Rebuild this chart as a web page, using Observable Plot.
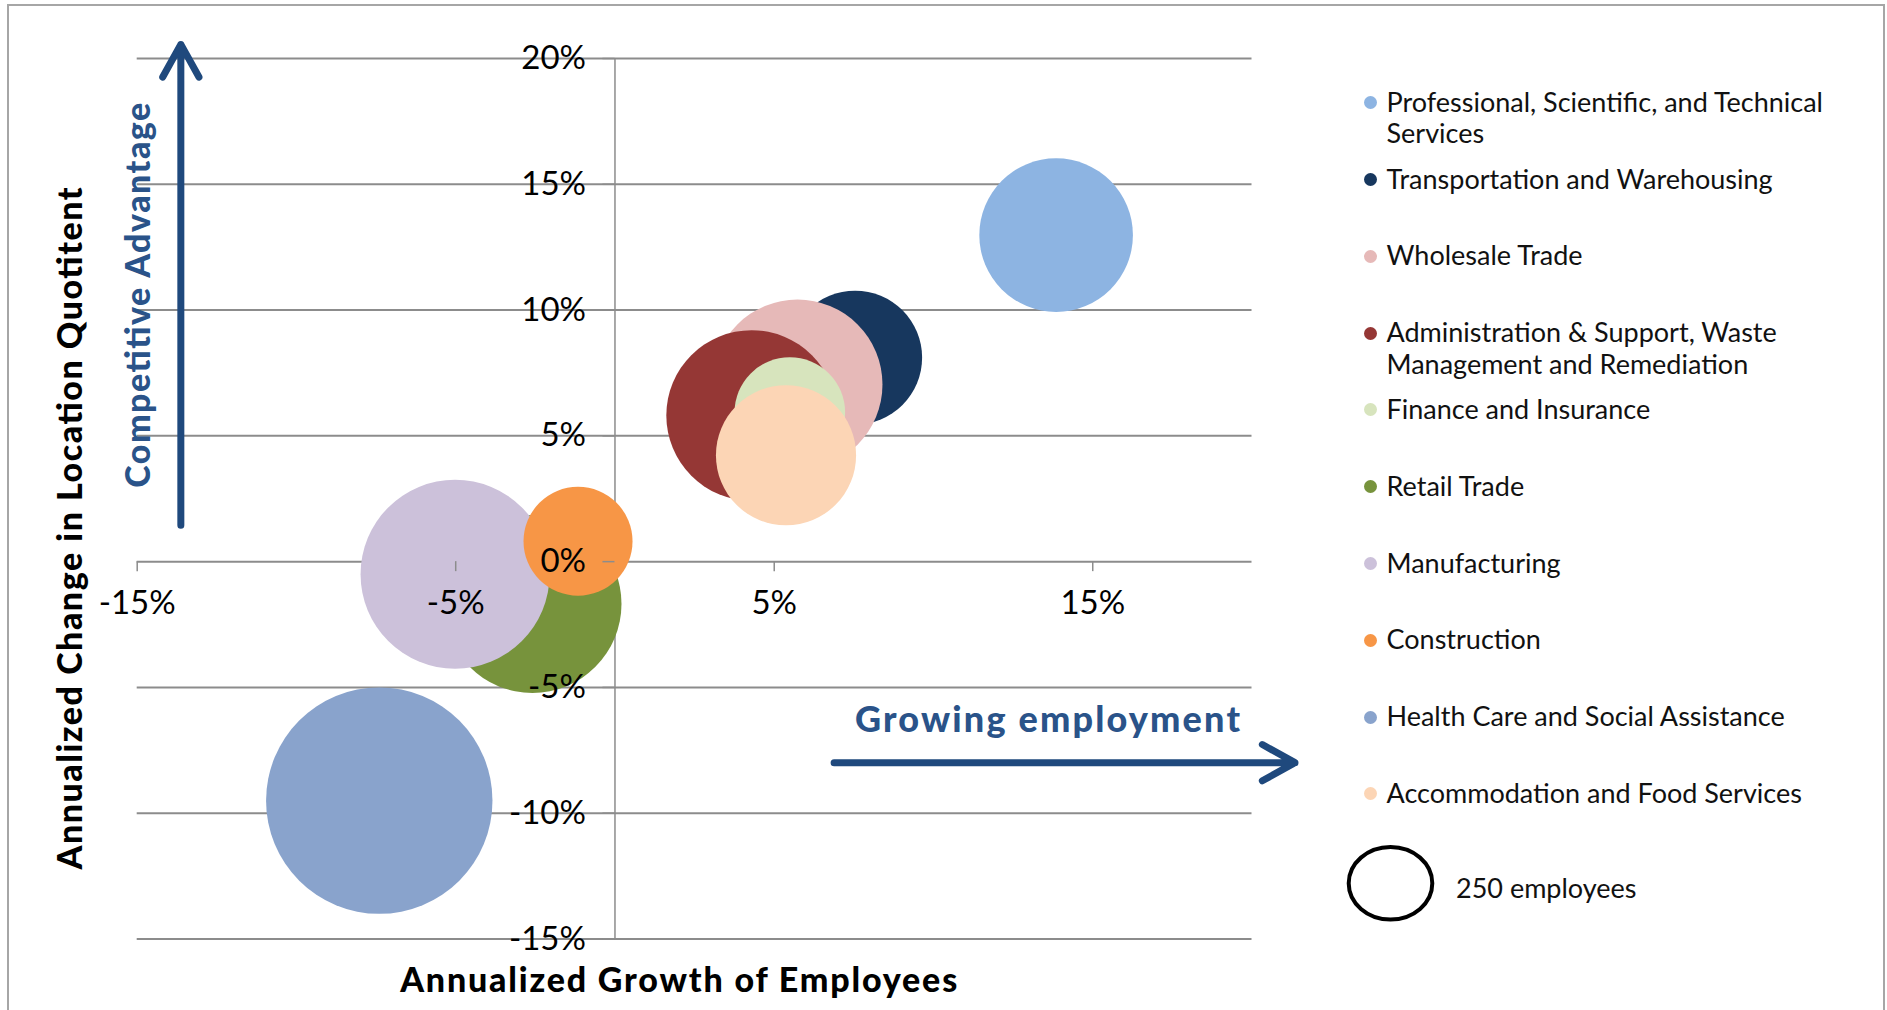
<!DOCTYPE html>
<html>
<head>
<meta charset="utf-8">
<script src="https://cdn.jsdelivr.net/npm/d3@7"></script>
<script src="https://cdn.jsdelivr.net/npm/@observablehq/plot@0.6"></script>
<style>
  html, body { margin: 0; padding: 0; background: #ffffff; }
  #chart { position: relative; width: 1887px; height: 1010px; overflow: hidden; font-family: Lato, "Noto Sans", sans-serif; background: #fff; }
  #border { position: absolute; left: 7px; top: 4px; width: 1878px; height: 1100px; border: 2px solid #a6a6a6; box-sizing: border-box; }
  #plot { position: absolute; left: 0; top: 0; }
  .lg-marker { position: absolute; width: 13px; height: 13px; border-radius: 50%; }
  .lg-text { position: absolute; width: 480px; font-size: 27px; line-height: 31.5px; color: #111; }
  #sizekey { position: absolute; left: 0; top: 0; }
</style>
</head>
<body>
<div id="chart">
  <div id="border"></div>
  <div id="plot"></div>
  <div id="legend"></div>
</div>
<script>
// ---------------- data ----------------
const industries = [
  "Professional, Scientific, and Technical Services",
  "Transportation and Warehousing",
  "Wholesale Trade",
  "Administration & Support, Waste Management and Remediation",
  "Finance and Insurance",
  "Retail Trade",
  "Manufacturing",
  "Construction",
  "Health Care and Social Assistance",
  "Accommodation and Food Services"
];
// annualized growth of employees (%)
const employeeGrowth = [13.85, 7.54, 5.73, 4.29, 5.49, -2.59, -5.02, -1.16, -7.40, 5.37];
// annualized change in location quotient (%)
const lqChange = [12.98, 8.11, 7.04, 5.81, 5.93, -1.68, -0.50, 0.81, -9.50, 4.23];
// employees (bubble size)
const employees = [836, 636, 1024, 1031, 433, 1123, 1266, 421, 1816, 696];
const colors = ["#8DB4E2", "#17375E", "#E6B9B8", "#953735", "#D7E4BD", "#77933C", "#CCC1DA", "#F79646", "#89A3CC", "#FCD5B5"];
const xTicks = [-15, -5, 5, 15];
const yTicks = [-15, -10, -5, 0, 5, 10, 15, 20];
const sizeKeyValue = 250;
const sizeKeyLabel = "250 employees";
const xTitle = "Annualized Growth of Employees";
const yTitle = "Annualized Change in Location Quotitent";
const upLabel = "Competitive Advantage";
const rightLabel = "Growing employment";

// ---------------- layout ----------------
const W = 1887, H = 1010;
const M = {left: 136.7, right: 635.5, top: 58, bottom: 71.5};
const xDomain = [-15, 20], yDomain = [-15, 20];
const innerW = W - M.left - M.right, innerH = H - M.top - M.bottom;
const xZeroOffset = innerW * (0 - xDomain[0]) / (xDomain[1] - xDomain[0]);
const yZeroOffset = innerH * (0 - yDomain[0]) / (yDomain[1] - yDomain[0]);
const gridColor = "#8c8c8c";
const accent = "#1F497D";
const textBlue = "#2A5389";

// annotation placements (data units)
const arrows = [
  {x1: -13.63, y1: 1.45, x2: -13.63, y2: 20.56},
  {x1: 6.88, y1: -7.99, x2: 21.35, y2: -7.99}
];
const titleSpecs = [
  {text: xTitle, x: 2.0, y: -16.67, rotate: 0, size: 34, fill: "#000", length: 557},
  {text: yTitle, x: -17.08, y: 1.32, rotate: -90, size: 34, fill: "#000", length: 682},
  {text: upLabel, x: -14.93, y: 10.59, rotate: -90, size: 34, fill: textBlue, length: 385},
  {text: rightLabel, x: 13.58, y: -6.32, rotate: 0, size: 36, fill: textBlue, length: 385}
];

const table = industries.map((name, i) => ({
  name, growth: employeeGrowth[i], lq: lqChange[i], employees: employees[i], color: colors[i]
}));

const plot = Plot.plot({
  width: W, height: H,
  marginLeft: M.left, marginRight: M.right, marginTop: M.top, marginBottom: M.bottom,
  x: {domain: xDomain, axis: null},
  y: {domain: yDomain, axis: null},
  r: {type: "sqrt", domain: [0, sizeKeyValue], range: [0, 42]},
  color: {type: "identity"},
  style: {fontFamily: "Lato, 'Noto Sans', sans-serif", background: "transparent", overflow: "visible", color: "#000"},
  marks: [
    Plot.gridY(yTicks, {stroke: gridColor, strokeOpacity: 1, strokeWidth: 2}),
    Plot.ruleX([0], {stroke: gridColor, strokeWidth: 1.5}),
    Plot.dot(table, {x: "growth", y: "lq", r: "employees", fill: "color", stroke: null, sort: null, title: "name"}),
    Plot.axisY(yTicks, {
      anchor: "left", dx: xZeroOffset, tickSize: 12, tickPadding: 17,
      tickFormat: d => `${d}%`, fontSize: 33, stroke: gridColor, strokeWidth: 1.5, fill: "#000", label: null
    }),
    Plot.axisX(xTicks, {
      anchor: "bottom", dy: -yZeroOffset, tickSize: 10, tickPadding: 19,
      tickFormat: d => `${d}%`, fontSize: 33, stroke: gridColor, strokeWidth: 1.5, fill: "#000", label: null
    }),
    Plot.arrow(arrows, {x1: "x1", y1: "y1", x2: "x2", y2: "y2", stroke: accent, strokeWidth: 7, headLength: 8, headAngle: 58}),
    ...titleSpecs.map(s => Plot.text([s], {
      x: "x", y: "y", text: "text", rotate: s.rotate, fontSize: s.size, fontWeight: 900, fill: s.fill, lineAnchor: "middle"
    }))
  ]
});
// stretch titles to the reference widths
d3.select(plot).selectAll("text").each(function () {
  const spec = titleSpecs.find(s => s.text === this.textContent);
  if (spec) { this.setAttribute("textLength", spec.length); this.setAttribute("lengthAdjust", "spacing"); }
});
document.getElementById("plot").appendChild(plot);

// ---------------- legend ----------------
const legend = document.getElementById("legend");
const lgTop = 102.7, lgStep = 76.8, lgMarkerX = 1370.5, lgTextX = 1386.5;
industries.forEach((name, i) => {
  const yc = lgTop + i * lgStep;
  const m = document.createElement("div");
  m.className = "lg-marker";
  m.style.left = (lgMarkerX - 6.5) + "px";
  m.style.top = (yc - 6.5) + "px";
  m.style.background = colors[i];
  legend.appendChild(m);
  const t = document.createElement("div");
  t.className = "lg-text";
  t.style.left = lgTextX + "px";
  t.style.top = (yc - 17) + "px";
  t.textContent = name;
  legend.appendChild(t);
});
// size key
const svgNS = "http://www.w3.org/2000/svg";
const key = document.createElementNS(svgNS, "svg");
key.setAttribute("id", "sizekey");
key.setAttribute("width", W); key.setAttribute("height", H);
const ell = document.createElementNS(svgNS, "ellipse");
ell.setAttribute("cx", 1390.5); ell.setAttribute("cy", 883.3);
ell.setAttribute("rx", 41.8); ell.setAttribute("ry", 36.3);
ell.setAttribute("fill", "none"); ell.setAttribute("stroke", "#000"); ell.setAttribute("stroke-width", 4);
key.appendChild(ell);
legend.appendChild(key);
const kt = document.createElement("div");
kt.className = "lg-text";
kt.style.left = "1456px";
kt.style.top = (889 - 17) + "px";
kt.textContent = sizeKeyLabel;
legend.appendChild(kt);
</script>
</body>
</html>
